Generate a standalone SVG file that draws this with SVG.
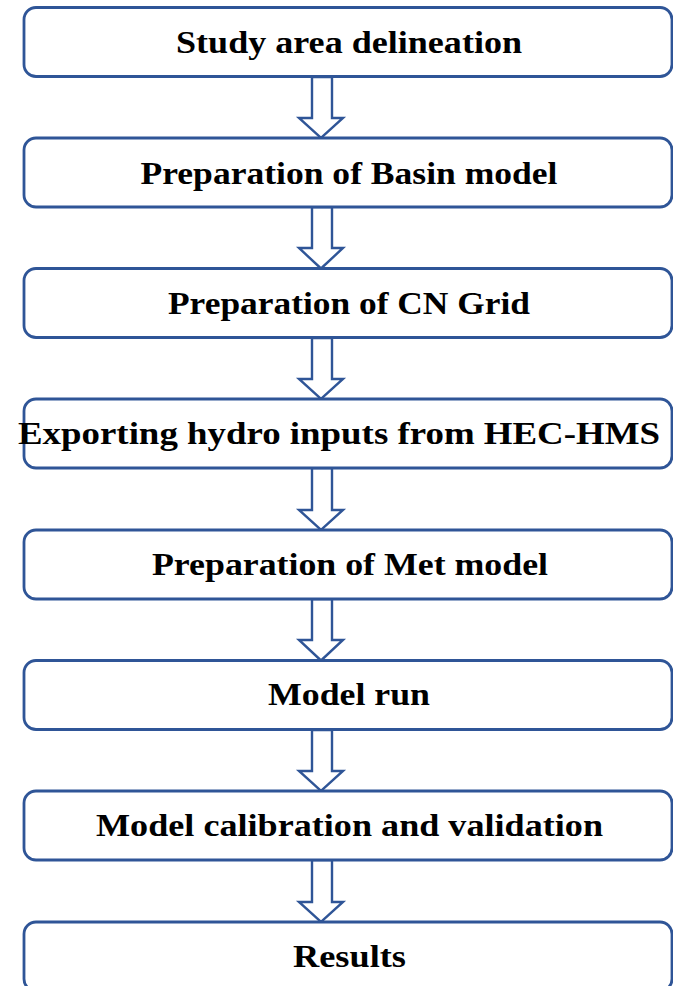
<svg xmlns="http://www.w3.org/2000/svg" width="673" height="986" viewBox="0 0 673 986">
<style>
.box{fill:#fff;stroke:#2F5597;stroke-width:2.8}
.arr{fill:#fff;stroke:#2F5597;stroke-width:2.4;stroke-linejoin:miter}
.t{font-family:"Liberation Serif","Times New Roman",serif;font-weight:bold;font-size:32px;fill:#000;text-anchor:middle}
</style>
<rect width="673" height="986" fill="#fff"/>
<g id="connectors">
<polygon class="arr" points="312,77 312,118 299,118 321,138 343,118 332,118 332,77"/>
<polygon class="arr" points="312,207 312,248 299,248 321,268.5 343,248 332,248 332,207"/>
<polygon class="arr" points="312,338 312,379 299,379 321,399 343,379 332,379 332,338"/>
<polygon class="arr" points="312,468 312,510 299,510 321,530 343,510 332,510 332,468"/>
<polygon class="arr" points="312,599 312,640 299,640 321,660.5 343,640 332,640 332,599"/>
<polygon class="arr" points="312,730 312,771 299,771 321,791 343,771 332,771 332,730"/>
<polygon class="arr" points="312,860 312,902 299,902 321,922 343,902 332,902 332,860"/>
</g>
<g id="n1"><rect class="box" x="24" y="7.5" width="648" height="69" rx="12"/><text class="t" x="349" y="53" textLength="346" lengthAdjust="spacingAndGlyphs">Study area delineation</text></g>
<g id="n2"><rect class="box" x="24" y="138" width="648" height="69" rx="12"/><text class="t" x="349" y="183.5" textLength="417" lengthAdjust="spacingAndGlyphs">Preparation of Basin model</text></g>
<g id="n3"><rect class="box" x="24" y="268.5" width="648" height="69" rx="12"/><text class="t" x="349" y="314" textLength="362" lengthAdjust="spacingAndGlyphs">Preparation of CN Grid</text></g>
<g id="n4"><rect class="box" x="24" y="399" width="648" height="69" rx="12"/><text class="t" x="339" y="444" textLength="642" lengthAdjust="spacingAndGlyphs">Exporting hydro inputs from HEC-HMS</text></g>
<g id="n5"><rect class="box" x="24" y="530" width="648" height="69" rx="12"/><text class="t" x="350" y="575" textLength="396" lengthAdjust="spacingAndGlyphs">Preparation of Met model</text></g>
<g id="n6"><rect class="box" x="24" y="660.5" width="648" height="69" rx="12"/><text class="t" x="349" y="705" textLength="162" lengthAdjust="spacingAndGlyphs">Model run</text></g>
<g id="n7"><rect class="box" x="24" y="791" width="648" height="69" rx="12"/><text class="t" x="349.5" y="836" textLength="507" lengthAdjust="spacingAndGlyphs">Model calibration and validation</text></g>
<g id="n8"><rect class="box" x="24" y="922" width="648" height="69" rx="12"/><text class="t" x="349.5" y="967" textLength="113" lengthAdjust="spacingAndGlyphs">Results</text></g>
</svg>
